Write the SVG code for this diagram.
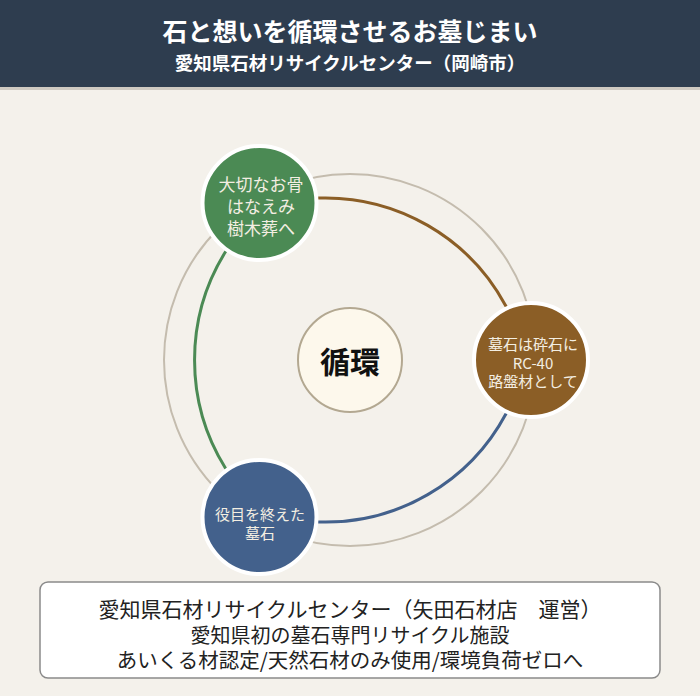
<svg xmlns="http://www.w3.org/2000/svg" width="700" height="696" viewBox="0 0 700 696">
<style>
.t{font-family:"Noto Sans CJK JP","Noto Sans",sans-serif;text-anchor:middle;dominant-baseline:central}
.hd{fill:#ffffff;font-weight:bold}
.nt{fill:#f3eee2}
.bx{fill:#222222}
.node{stroke:#ffffff;stroke-width:4}
.arc{fill:none;stroke-width:3;stroke-linecap:round}
</style>
<rect x="0" y="0" width="700" height="696" fill="#f4f1eb"/>
<g id="header">
<rect x="0" y="0" width="700" height="87" fill="#2e3d4f"/>
<rect x="0" y="87" width="700" height="3" fill="#cfcac2"/>
<text class="t hd" x="350" y="30" font-size="25">石と想いを循環させるお墓じまい</text>
<text class="t hd" x="350" y="62" font-size="18.5">愛知県石材リサイクルセンター（岡崎市）</text>
</g>
<g id="connectors">
<circle cx="350" cy="360" r="186" fill="none" stroke="#c4bcae" stroke-width="2"/>
<path class="arc" stroke="#4b8a54" d="M225.5,468.3 A205,205 0 0 1 225.5,251.7"/>
<path class="arc" stroke="#8b5e26" d="M318.5,198 A205,205 0 0 1 506,306.3"/>
<path class="arc" stroke="#43618c" d="M506,413.7 A205,205 0 0 1 318.5,522"/>
</g>
<g id="center">
<circle cx="350" cy="360" r="52" fill="#fdf8ec" stroke="#b3a891" stroke-width="2"/>
<text class="t" x="350" y="360" font-size="30" font-weight="bold" fill="#111111">循環</text>
</g>
<g id="node-green">
<circle class="node" cx="259.5" cy="203" r="57" fill="#4b8a54"/>
<text class="t nt" x="261" y="183" font-size="17">大切なお骨</text>
<text class="t nt" x="261" y="205" font-size="17">はなえみ</text>
<text class="t nt" x="261" y="227" font-size="17">樹木葬へ</text>
</g>
<g id="node-brown">
<circle class="node" cx="531" cy="360" r="57" fill="#8b5e26"/>
<text class="t nt" x="533" y="343" font-size="15">墓石は砕石に</text>
<text class="t nt" x="533" y="362" font-size="15">RC-40</text>
<text class="t nt" x="533" y="380" font-size="15">路盤材として</text>
</g>
<g id="node-blue">
<circle class="node" cx="259.5" cy="517" r="57" fill="#43618c"/>
<text class="t nt" x="260" y="513" font-size="15">役目を終えた</text>
<text class="t nt" x="260" y="532" font-size="15">墓石</text>
</g>
<g id="info-box">
<rect x="40" y="582" width="620" height="96" rx="8" fill="#ffffff" stroke="#8a8a8a" stroke-width="1.5"/>
<text class="t bx" x="350" y="608" font-size="21">愛知県石材リサイクルセンター（矢田石材店　運営）</text>
<text class="t bx" x="350" y="634" font-size="20">愛知県初の墓石専門リサイクル施設</text>
<text class="t bx" x="350" y="659" font-size="20.5">あいくる材認定/天然石材のみ使用/環境負荷ゼロへ</text>
</g>
</svg>
